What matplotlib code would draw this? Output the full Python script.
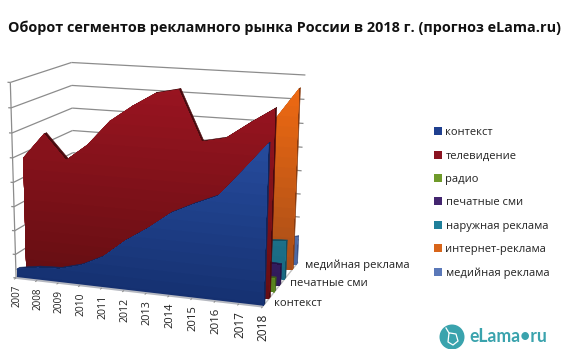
import numpy as np
import matplotlib
matplotlib.use("Agg")
import matplotlib.pyplot as plt
from matplotlib.patches import Patch, Ellipse
from matplotlib.colors import to_rgb
from mpl_toolkits.mplot3d.art3d import Poly3DCollection, Line3DCollection

W, H = 563, 349
plt.rcParams['font.family'] = ['Open Sans', 'DejaVu Sans']

title = "Оборот сегментов рекламного рынка России в 2018 г. (прогноз eLama.ru)"
years = [2007, 2008, 2009, 2010, 2011, 2012, 2013, 2014, 2015, 2016, 2017, 2018]
series_names = ["контекст", "телевидение", "радио", "печатные сми",
                "наружная реклама", "интернет-реклама", "медийная реклама"]
depth_labels = ["контекст", "печатные сми", "медийная реклама"]
depth_label_slots = [0, 3, 6]

kontekst = [0.35, 0.5, 0.55, 0.8, 1.25, 2.0, 2.6, 3.3, 3.75, 4.15, 5.2, 6.3]
televidenie = [4.8, 5.85, 4.85, 5.55, 6.55, 7.2, 7.75, 7.95, 6.0, 6.2, 6.85, 7.45]
radio = [0.3, 0.35, 0.3, 0.35, 0.4, 0.45, 0.5, 0.5, 0.45, 0.5, 0.55, 0.55]
pechat = [1.3, 1.4, 1.1, 1.2, 1.2, 1.2, 1.2, 1.1, 1.0, 0.95, 0.9, 0.85]
naruzhnaya = [1.1, 1.4, 1.0, 1.1, 1.3, 1.4, 1.5, 1.6, 1.4, 1.5, 1.55, 1.6]
internet = [0.5, 0.7, 0.8, 1.1, 1.7, 2.4, 3.0, 3.7, 4.2, 5.0, 6.3, 7.6]
mediynaya = [0.2, 0.25, 0.25, 0.35, 0.5, 0.6, 0.7, 0.8, 0.8, 0.9, 1.0, 1.2]
all_series = [kontekst, televidenie, radio, pechat, naruzhnaya, internet, mediynaya]

# ribbon placement along the depth axis
depth_slots = [0, 1, 2, 3, 4, 5.6, 6.5]

# face colours: top of gradient, bottom of gradient, side and upper faces
face_top = ["#2a52a8", "#981420", "#7fae2e", "#4a2a80", "#2a8fa8", "#f06a12", "#6c88c8"]
face_bottom = ["#15306f", "#640e12", "#55801f", "#2f1a58", "#18667f", "#a44c18", "#4a66a0"]
face_dark = ["#10265c", "#4a0a0e", "#3f6016", "#241245", "#114e62", "#8a3c10", "#3a5288"]
legend_colors = ["#1f3f8f", "#8a1220", "#6f9a2a", "#43256f", "#1f7f9a", "#d8651a", "#5a78b8"]

N_X, N_D, N_Z = 11, 7, 8
X = np.arange(12)

# camera calibration: box corners (year index, depth, level) -> canvas position
box_corners = np.array([
    [0, 0, 0], [N_X, 0, 0], [N_X, N_D, 0], [0, N_D, 0],
    [0, 0, N_Z], [0, N_D, N_Z], [N_X, N_D, N_Z]], float)
canvas_corners = np.array([
    [17, 277], [263, 307], [298, 262], [73, 240],
    [9, 83], [73, 62], [305, 75]], float)


def fit_camera(world, image):
    rows = []
    for (x, y, z), (u, v) in zip(world, image):
        p = [x, y, z, 1]
        rows.append(p + [0, 0, 0, 0] + [-u * c for c in p])
        rows.append([0, 0, 0, 0] + p + [-v * c for c in p])
    vt = np.linalg.svd(np.array(rows))[2]
    cam = vt[-1].reshape(3, 4)
    return cam / cam[2, 3]


CAMERA = fit_camera(box_corners, canvas_corners)


def canvas_pos(x, d, z):
    u, v, w = CAMERA @ np.array([x, d, z, 1.0])
    return u / w, v / w


fig = plt.figure(figsize=(W / 100, H / 100), dpi=100, facecolor="white")
ax = fig.add_axes([0, (H - W) / 2 / H, 1, W / H], projection="3d")
ax.set_axis_off()
ax.computed_zorder = False


def camera_projection():
    inv = ax.transData.inverted()
    p0 = inv.transform((0, H))
    p1 = inv.transform((1, H - 1))
    sx, sy = p1 - p0
    m = np.zeros((4, 4))
    m[0] = sx * CAMERA[0] + p0[0] * CAMERA[2]
    m[1] = sy * CAMERA[1] + p0[1] * CAMERA[2]
    m[2] = [0, 1, 0, 0]
    m[3] = CAMERA[2]
    return m


ax.get_proj = camera_projection


def add_segments(segments, color, lw, zorder):
    ax.add_collection3d(Line3DCollection(segments, colors=color, linewidths=lw,
                                         zorder=zorder), autolim=False)


# walls: horizontal gridlines, axis lines and tick marks
GRID = "#8c8c8c"
wall_segments = []
for lv in range(N_Z + 1):
    wall_segments.append([(-0.13, 0, lv), (0, 0, lv)])
    wall_segments.append([(0, 0, lv), (0, N_D, lv)])
    wall_segments.append([(0, N_D, lv), (N_X, N_D, lv)])
wall_segments.append([(0, 0, 0), (0, 0, N_Z)])
add_segments(wall_segments, GRID, 0.9, 1)
add_segments([[(N_X, 0, 0), (N_X, N_D, 0)]], "#c0c0c0", 1.0, 1)
add_segments([[(0, 0, 0), (N_X, 0, 0)]], "#b5b8c0", 1.4, 30)
add_segments([[(i, 0, 0), (i, -0.22, 0)] for i in X], GRID, 0.7, 30)


def ribbon(order, slot, values):
    """Draw one area series as an extruded ribbon with a shaded front."""
    vals = np.asarray(values, float)
    d0, d1 = slot + 0.12, slot + 0.42
    z = 20 - order * 2
    top_faces = [[(X[i], d0, vals[i]), (X[i + 1], d0, vals[i + 1]),
                  (X[i + 1], d1, vals[i + 1]), (X[i], d1, vals[i])] for i in range(11)]
    cap = [[(N_X, d0, 0), (N_X, d1, 0), (N_X, d1, vals[-1]), (N_X, d0, vals[-1])]]
    ax.add_collection3d(Poly3DCollection(top_faces + cap, facecolor=face_dark[order],
                                         edgecolor=face_dark[order], linewidth=0.4,
                                         zorder=z), autolim=False)
    # shaded front: stacked silhouettes, tallest and lightest first
    fine_x = np.linspace(0, N_X, 221)
    fine_v = np.interp(fine_x, X, vals)
    c_top, c_bot = np.array(to_rgb(face_top[order])), np.array(to_rgb(face_bottom[order]))
    peak = 8.0
    for k, level in enumerate(np.linspace(peak + 1, 0.1, 22)):
        t = np.clip(level / peak, 0, 1)
        col = c_bot + (c_top - c_bot) * t
        clipped = np.minimum(fine_v, level)
        poly = [(fine_x[0], d0, 0)] + list(zip(fine_x, [d0] * len(fine_x), clipped)) + [(fine_x[-1], d0, 0)]
        ax.add_collection3d(Poly3DCollection([poly], facecolor=tuple(col), edgecolor="none",
                                             zorder=z + 0.01 * (k + 1)), autolim=False)


for order in range(6, -1, -1):
    ribbon(order, depth_slots[order], all_series[order])

# year labels below the front edge, series labels along the depth edge
for i, year in zip(X, years):
    u, v = canvas_pos(i, 0, 0)
    fig.text((u + 0.7) / W, 1 - (v + 7) / H, str(year), rotation=90, ha="center", va="top",
             fontsize=7.0 + 0.14 * i, color="#222222")
for slot, label in zip(depth_label_slots, depth_labels):
    u, v = canvas_pos(N_X, slot + 0.5, 0)
    fig.text((u + 9) / W, 1 - v / H, label, ha="left", va="center",
             fontsize=8.1, color="#222222")

fig.text(8 / W, 1 - 28 / H, title, fontsize=10.35, fontweight="bold", color="#111111",
         ha="left", va="center")

handles = [Patch(facecolor=c, edgecolor="none") for c in legend_colors]
fig.legend(handles, series_names, loc="upper left", bbox_to_anchor=(433.5 / W, 1 - 127 / H),
           frameon=False, fontsize=8, labelspacing=1.12, handlelength=0.72,
           handleheight=0.72, handletextpad=0.36, borderpad=0, borderaxespad=0,
           labelcolor="#222222")

# brand mark in the lower right corner
LOGO = "#3aa3ad"
fig.add_artist(Ellipse((452 / W, 1 - 337 / H), 25 / W, 25 / H, transform=fig.transFigure,
                       facecolor=LOGO, edgecolor="none"))
fig.add_artist(plt.Line2D(np.array([446, 449, 448, 453, 458, 456, 450]) / W,
                          1 - np.array([328, 333, 342, 345, 341, 334, 333]) / H,
                          color="white", lw=0.9, transform=fig.transFigure))
fig.text(469 / W, 1 - 337 / H, "eLama•ru", fontsize=12.7, fontweight="bold", color=LOGO,
         ha="left", va="center", family=["Lato", "DejaVu Sans"])

fig.savefig("out.png", dpi=100, facecolor="white")
